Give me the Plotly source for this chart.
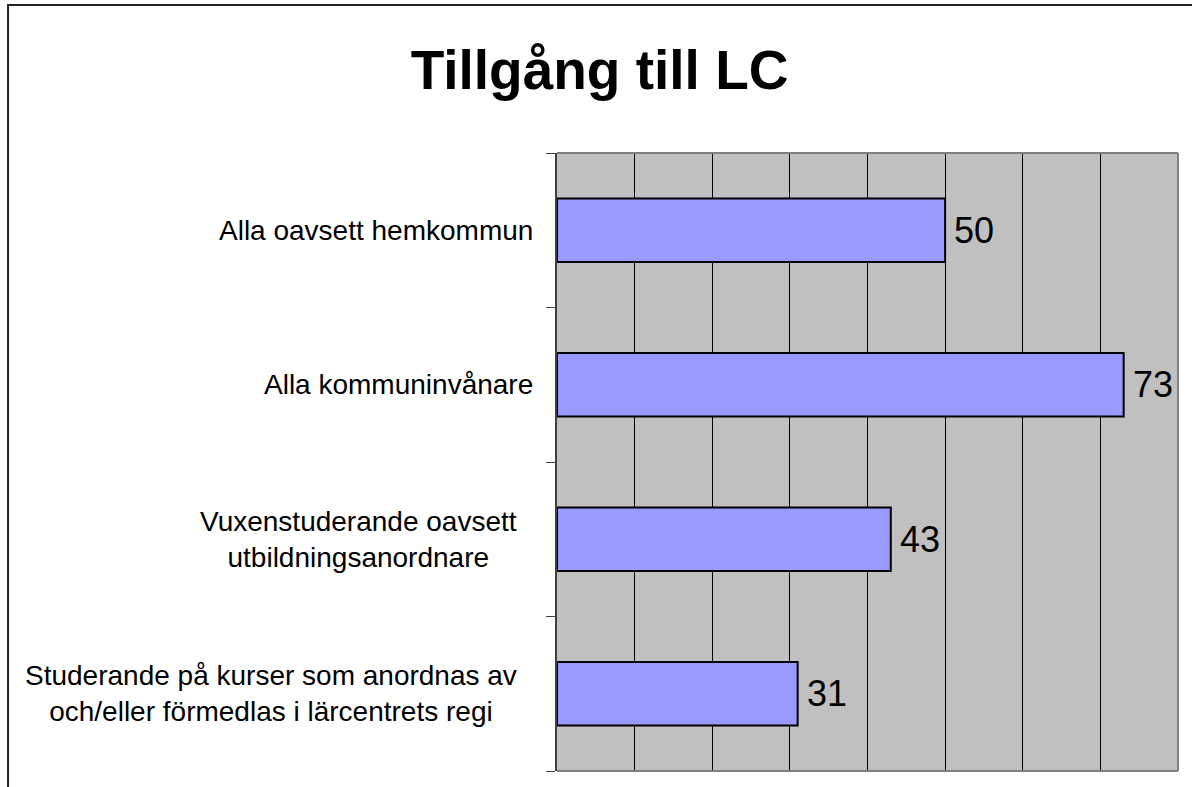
import plotly.graph_objects as go

# data
categories = [
    "Alla oavsett hemkommun",
    "Alla kommuninvånare",
    "Vuxenstuderande oavsett<br>utbildningsanordnare",
    "Studerande på kurser som anordnas av<br>och/eller förmedlas i lärcentrets regi",
]
values = [50, 73, 43, 31]
title_text = "Tillgång till LC"

FONT = "Liberation Sans, Arial, sans-serif"

fig = go.Figure()
fig.add_trace(go.Bar(
    x=values,
    y=categories,
    orientation="h",
    marker=dict(color="#9999FF", line=dict(color="black", width=2)),
    width=0.41,
))

# value labels, a bit away from the bar end
for c, v in zip(categories, values):
    fig.add_annotation(
        x=v, y=c, text=str(v), showarrow=False,
        xanchor="left", xshift=7,
        font=dict(family=FONT, size=36, color="black"),
    )

# category labels, centred lines like the original
for c in categories:
    fig.add_annotation(
        x=0, xref="paper", y=c, yref="y",
        text=c, showarrow=False, align="center",
        xanchor="right", xshift=-38 if "<br>" in c else -22,
        font=dict(family=FONT, size=28, color="black"),
    )

# plot area border (top, right, bottom)
for x0, y0, x1, y1 in [(0, 1, 1, 1), (1, 0, 1, 1), (0, 0, 1, 0)]:
    fig.add_shape(type="line", xref="paper", yref="paper",
                  x0=x0, y0=y0, x1=x1, y1=y1,
                  line=dict(color="#808080", width=2))

# outer chart frame (partly cropped)
fig.add_shape(type="rect", xref="paper", yref="paper",
              x0=-0.884, y0=-0.3, x1=1.3, y1=1.2395,
              line=dict(color="#222222", width=2))

fig.update_layout(
    width=1192, height=787,
    margin=dict(l=557, r=14, t=153, b=16),
    paper_bgcolor="white",
    plot_bgcolor="#C0C0C0",
    showlegend=False,
    title=dict(text="<b>" + title_text + "</b>", x=0.503, xref="container", xanchor="center",
               y=0.912, yref="container", yanchor="middle",
               font=dict(family=FONT, size=55, color="black")),
    xaxis=dict(range=[0, 80], tickvals=[10, 20, 30, 40, 50, 60, 70],
               showgrid=True, gridcolor="black", gridwidth=1,
               showticklabels=False, zeroline=False, showline=False),
    yaxis=dict(categoryorder="array", categoryarray=categories[::-1],
               showticklabels=False, showgrid=False, zeroline=False,
               showline=True, linecolor="#404040", linewidth=2,
               ticks="outside", tickson="boundaries", ticklen=9,
               tickcolor="#404040", tickwidth=1),
)

fig.write_html("out.html", config={"displayModeBar": False},
               post_script="document.body.style.margin='0px';")
